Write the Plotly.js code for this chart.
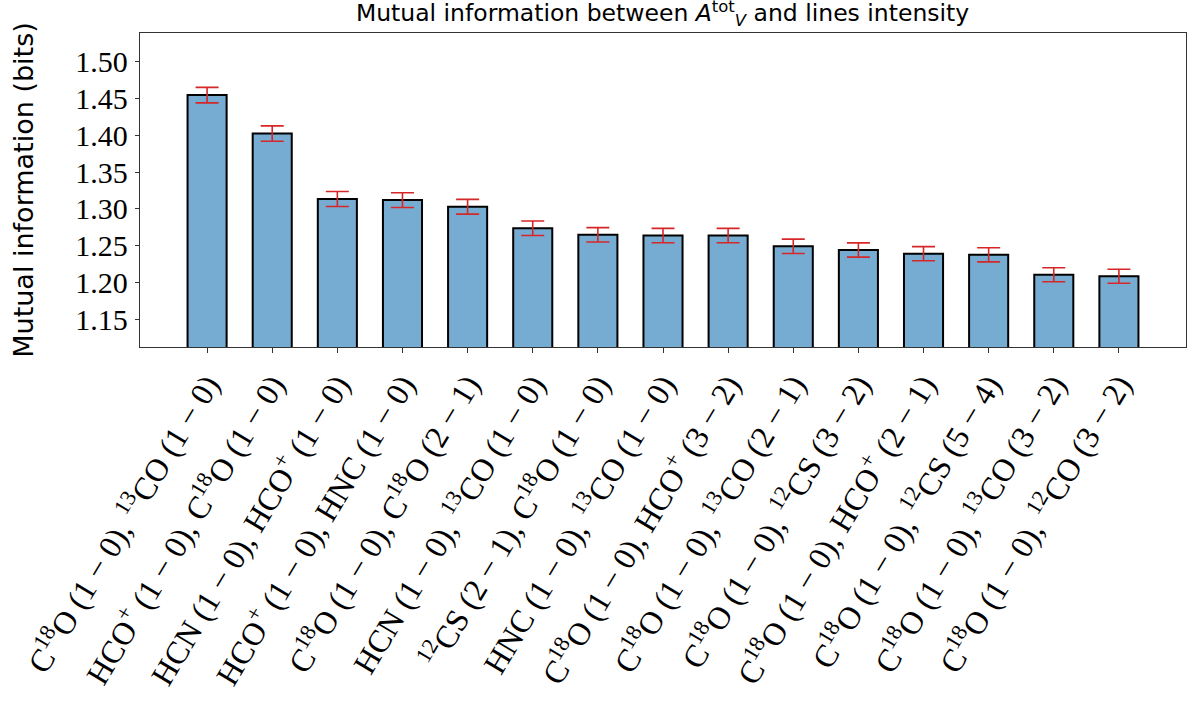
<!DOCTYPE html>
<html>
<head>
<meta charset="utf-8">
<script src="https://cdn.plot.ly/plotly-3.0.1.min.js"></script>
<style>html,body{margin:0;padding:0;background:#fff;}#chart{width:1196px;height:709px;}</style>
</head>
<body>
<div id="chart"></div>
<script>
const categories = [
  "C<sup>18</sup>O (1 − 0), <sup>13</sup>CO (1 − 0)",
  "HCO<sup>+</sup> (1 − 0), C<sup>18</sup>O (1 − 0)",
  "HCN (1 − 0), HCO<sup>+</sup> (1 − 0)",
  "HCO<sup>+</sup> (1 − 0), HNC (1 − 0)",
  "C<sup>18</sup>O (1 − 0), C<sup>18</sup>O (2 − 1)",
  "HCN (1 − 0), <sup>13</sup>CO (1 − 0)",
  "<sup>12</sup>CS (2 − 1), C<sup>18</sup>O (1 − 0)",
  "HNC (1 − 0), <sup>13</sup>CO (1 − 0)",
  "C<sup>18</sup>O (1 − 0), HCO<sup>+</sup> (3 − 2)",
  "C<sup>18</sup>O (1 − 0), <sup>13</sup>CO (2 − 1)",
  "C<sup>18</sup>O (1 − 0), <sup>12</sup>CS (3 − 2)",
  "C<sup>18</sup>O (1 − 0), HCO<sup>+</sup> (2 − 1)",
  "C<sup>18</sup>O (1 − 0), <sup>12</sup>CS (5 − 4)",
  "C<sup>18</sup>O (1 − 0), <sup>13</sup>CO (3 − 2)",
  "C<sup>18</sup>O (1 − 0), <sup>12</sup>CO (3 − 2)"
];
const miValues = [1.454, 1.402, 1.3135, 1.312, 1.303, 1.274, 1.265, 1.264, 1.264, 1.2495, 1.2445, 1.2395, 1.238, 1.211, 1.209];
const miErrors = [0.0105, 0.0104, 0.0101, 0.0100, 0.0100, 0.0098, 0.0097, 0.0097, 0.0097, 0.0097, 0.0096, 0.0096, 0.0096, 0.0095, 0.0095];
const yTickVals = [1.15, 1.20, 1.25, 1.30, 1.35, 1.40, 1.45, 1.50];
const yTickText = ["1.15", "1.20", "1.25", "1.30", "1.35", "1.40", "1.45", "1.50"];

const xIdx = categories.map((_, i) => i);

const trace = {
  type: 'bar',
  x: xIdx,
  y: miValues,
  width: 0.6,
  marker: {color: '#76acd2', line: {color: '#000000', width: 2}},
  error_y: {type: 'data', array: miErrors, visible: true, color: '#d62728', thickness: 1.6, width: 11.5},
  hoverinfo: 'y'
};

const layout = {
  width: 1196, height: 709,
  margin: {l: 140, r: 10, t: 33, b: 362},
  paper_bgcolor: '#fff', plot_bgcolor: '#fff',
  showlegend: false,
  title: {
    text: 'Mutual information between <i>A</i><sup>tot</sup><sub><i>V</i></sub> and lines intensity',
    font: {family: 'DejaVu Sans', size: 23.5, color: '#000'},
    x: 0.554, xanchor: 'center', y: 0.993, yanchor: 'top'
  },
  xaxis: {
    range: [-1.03, 15.03],
    tickmode: 'array', tickvals: xIdx, ticktext: categories,
    tickangle: -59,
    tickfont: {family: 'Liberation Serif', size: 32, color: '#000'},
    ticks: 'outside', ticklen: 5, tickcolor: '#333', tickwidth: 1,
    showline: true, linecolor: '#333', linewidth: 1.2, mirror: true,
    showgrid: false, zeroline: false
  },
  yaxis: {
    range: [1.1133, 1.538],
    tickmode: 'array', tickvals: yTickVals, ticktext: yTickText,
    tickfont: {family: 'Liberation Serif', size: 30, color: '#000'},
    ticks: 'outside', ticklen: 4, tickcolor: '#333', tickwidth: 1,
    ticklabelstandoff: 1,
    showline: true, linecolor: '#333', linewidth: 1.2, mirror: true,
    showgrid: false, zeroline: false,
    title: {text: 'Mutual information (bits)', font: {family: 'DejaVu Sans', size: 27, color: '#000'}, standoff: 33}
  }
};

Plotly.newPlot('chart', [trace], layout, {displayModeBar: false, staticPlot: true});
</script>
</body>
</html>
